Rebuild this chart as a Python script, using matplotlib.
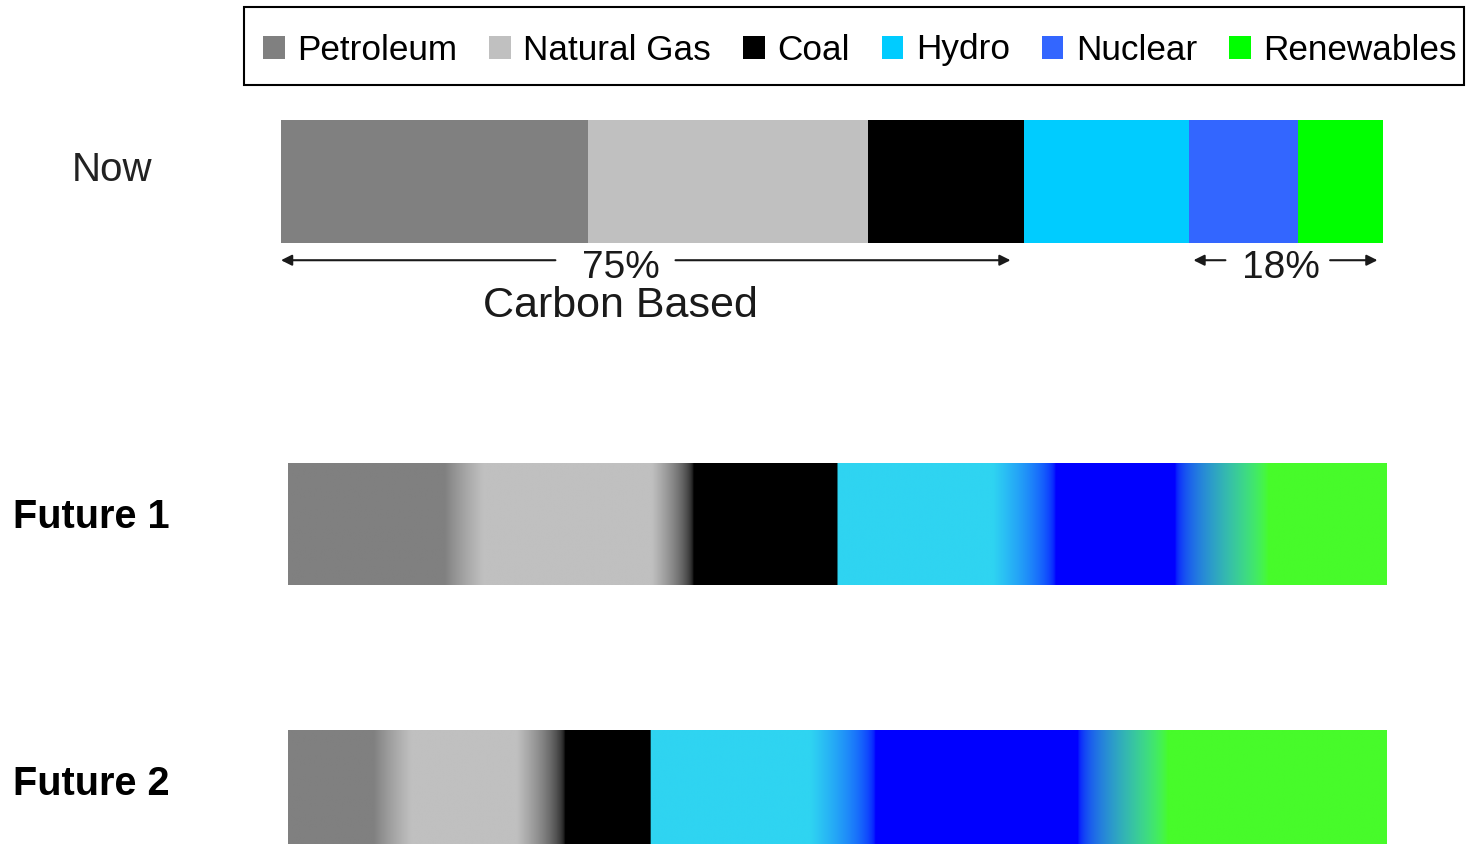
import numpy as np
import matplotlib
matplotlib.use("Agg")
import matplotlib.pyplot as plt
from matplotlib.patches import Patch, Rectangle
from matplotlib.colors import to_rgb

plt.rcParams['font.family'] = ['Liberation Sans', 'DejaVu Sans']

# data (percent shares)
sources = ['Petroleum', 'Natural Gas', 'Coal', 'Hydro', 'Nuclear', 'Renewables']
now = [27.9, 25.4, 14.1, 15.0, 9.9, 7.7]
future1 = [16, 19, 15, 17, 18, 15]
future2 = [9.5, 13.5, 10, 17.5, 25.5, 24]
carbon_label = '75%'
clean_label = '18%'

now_colors = ['#808080', '#C0C0C0', '#000000', '#00CCFF', '#3366FF', '#00FF00']
future_colors = ['#808080', '#C0C0C0', '#000000', '#2FD4F1', '#0000FF', '#47FB2A']
# width of the colour blend at each boundary (percent units)
blend1 = [3.5, 3.8, 0, 5.7, 8.5]
blend2 = [3.4, 4.4, 0, 5.9, 8.2]

W, H = 1466, 844
fig = plt.figure(figsize=(W / 100, H / 100), dpi=100)

def px_axes(x0, y0, x1, y1):
    # axes placed by pixel box (top-left origin)
    return fig.add_axes([x0 / W, 1 - y1 / H, (x1 - x0) / W, (y1 - y0) / H])

def gradient_row(values, colors, blends, n=2000):
    edges = np.cumsum(values)
    x = np.linspace(0, 100, n)
    rgb = np.array([to_rgb(c) for c in colors])
    idx = np.searchsorted(edges[:-1], x, side='right')
    out = rgb[idx].copy()
    for i, b in enumerate(blends):
        if b <= 0:
            continue
        e = edges[i]
        m = (x > e - b / 2) & (x < e + b / 2)
        t = ((x[m] - (e - b / 2)) / b)[:, None]
        # blend in (roughly) linear light so the middle stays bright
        out[m] = np.sqrt(rgb[i] ** 2 * (1 - t) + rgb[i + 1] ** 2 * t)
    return out[None, :, :]

# Now bar
ax = px_axes(281, 120, 1383, 243)
lefts = np.concatenate([[0], np.cumsum(now)[:-1]])
ax.barh(0.5, now, left=lefts, height=1, color=now_colors, edgecolor='none')
ax.set_xlim(0, 100)
ax.set_ylim(0, 1)
ax.axis('off')

tc = '#1a1a1a'
arrow = dict(arrowstyle='-|>', color=tc, lw=1.5, mutation_scale=16, shrinkA=0, shrinkB=0)
carbon_end = sum(now[:3]) - 1.2
ay = -0.14
ax.annotate('', xy=(0, ay), xytext=(24.9, ay), arrowprops=arrow, annotation_clip=False)
ax.annotate('', xy=(carbon_end, ay), xytext=(35.8, ay), arrowprops=arrow, annotation_clip=False)
ax.text(30.8, -0.205, carbon_label, ha='center', va='center', fontsize=28, color=tc, clip_on=False)
ax.text(30.8, -0.51, 'Carbon Based', ha='center', va='center', fontsize=31, color=tc, clip_on=False)

clean_start = sum(now[:4]) + 0.4
ax.annotate('', xy=(clean_start, ay), xytext=(85.7, ay), arrowprops=arrow, annotation_clip=False)
ax.annotate('', xy=(99.5, ay), xytext=(95.2, ay), arrowprops=arrow, annotation_clip=False)
ax.text(90.7, -0.205, clean_label, ha='center', va='center', fontsize=28, color=tc, clip_on=False)

# Future bars
for (y0, y1), vals, bl in [((463, 585), future1, blend1), ((730, 852), future2, blend2)]:
    a = px_axes(288, y0, 1386, y1)
    a.imshow(gradient_row(vals, future_colors, bl), extent=(0, 100, 0, 1),
             aspect='auto', interpolation='bilinear')
    a.set_xlim(0, 100)
    a.set_ylim(0, 1)
    a.axis('off')

# row labels
fig.text(112 / W, 1 - 170 / H, 'Now', ha='center', va='center', fontsize=29, color='#222222')
fig.text(13 / W, 1 - 517 / H, 'Future 1', ha='left', va='center', fontsize=28.5, fontweight='bold')
fig.text(13 / W, 1 - 784 / H, 'Future 2', ha='left', va='center', fontsize=28.5, fontweight='bold')

# legend
handles = [Patch(facecolor=c, edgecolor='none') for c in now_colors]
fig.legend(handles, sources, loc='center left', bbox_to_anchor=(263 / W, 1 - 50 / H),
           ncol=6, frameon=False, fontsize=25.3, handlelength=0.62, handleheight=0.62,
           handletextpad=0.35, columnspacing=0.91, borderpad=0, borderaxespad=0)
fig.add_artist(Rectangle((244 / W, 1 - 85 / H), 1220 / W, 78 / H, transform=fig.transFigure,
                         fill=False, edgecolor='black', lw=1.5))

fig.savefig('out.png', dpi=100)
